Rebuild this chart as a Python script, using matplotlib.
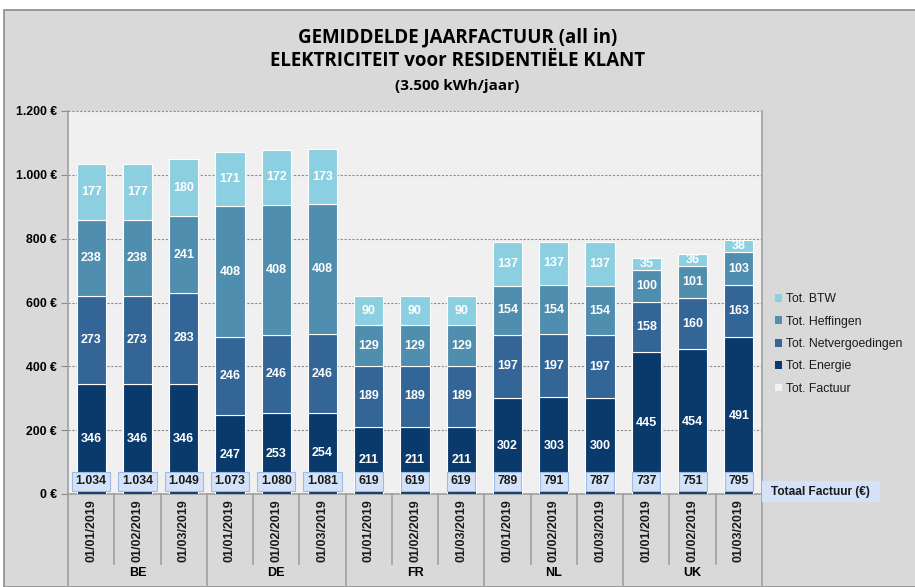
import numpy as np
import matplotlib
matplotlib.use("Agg")
import matplotlib.pyplot as plt
from matplotlib.patches import Rectangle
from matplotlib.lines import Line2D

countries = ["BE", "DE", "FR", "NL", "UK"]
dates = ["01/01/2019", "01/02/2019", "01/03/2019"]

energie = [346, 346, 346, 247, 253, 254, 211, 211, 211, 302, 303, 300, 445, 454, 491]
netverg = [273, 273, 283, 246, 246, 246, 189, 189, 189, 197, 197, 197, 158, 160, 163]
heffing = [238, 238, 241, 408, 408, 408, 129, 129, 129, 154, 154, 154, 100, 101, 103]
btw = [177, 177, 180, 171, 172, 173, 90, 90, 90, 137, 137, 137, 35, 36, 38]
totaal = ["1.034", "1.034", "1.049", "1.073", "1.080", "1.081", "619", "619", "619",
          "789", "791", "787", "737", "751", "795"]

series = [("Tot. Energie", energie, "#0a3a6c"),
          ("Tot. Netvergoedingen", netverg, "#336597"),
          ("Tot. Heffingen", heffing, "#4f8eae"),
          ("Tot. BTW", btw, "#8bcfe0")]

plt.rcParams['font.family'] = ['Liberation Sans', 'DejaVu Sans']

fig = plt.figure(figsize=(9.15, 5.87), dpi=100)
fig.patch.set_facecolor("white")
fig.patches.append(Rectangle((4/915, 0), 1, 1 - 10/587, transform=fig.transFigure,
                             facecolor="#d9d9d9", edgecolor="#8c8c8c", lw=1.2, zorder=-10))

ax = fig.add_axes([68/915, 93/587, 694/915, 383/587])
ax.set_facecolor("#f0f0f0")

x = np.arange(len(energie))
bottom = np.zeros(len(x))
for name, vals, col in series:
    vals = np.array(vals)
    ax.bar(x, vals, 0.63, bottom=bottom, color=col, edgecolor="white", lw=0.8, zorder=3)
    for xi, b, v in zip(x, bottom, vals):
        ax.text(xi, b + v / 2, str(v), ha="center", va="center", color="white",
                fontsize=9, fontweight="bold", zorder=5)
    bottom = bottom + vals

# total boxes
for xi, t in zip(x, totaal):
    ax.text(xi, 40, t, ha="center", va="center", fontsize=8.8, fontweight="bold",
            color="#1a1a1a", zorder=6,
            bbox=dict(boxstyle="square,pad=0.3", fc="#d3e2f7", ec="#9dbbe6", lw=0.8))

ax.set_xlim(-0.5, len(x) - 0.5)
ax.set_ylim(0, 1200)
ax.set_yticks(np.arange(0, 1201, 200))
ax.set_yticklabels([f"{v:,}".replace(",", ".") + " €" for v in range(0, 1201, 200)],
                   fontsize=8.8, fontweight="bold")
ax.yaxis.grid(True, linestyle=(0, (2, 1.5)), color="#8c8c8c", lw=0.8, zorder=0)
ax.tick_params(axis="y", length=5, color="#8c8c8c", pad=3)
ax.set_xticks([])
ax.spines["top"].set_visible(False)
for s in ["left", "right", "bottom"]:
    ax.spines[s].set_color("#a0a0a0")
    ax.spines[s].set_linewidth(1.2)

# category axis below
trans = ax.get_xaxis_transform()
for i in range(len(x)):
    ax.text(i, -0.015, dates[i % 3], rotation=90, ha="center", va="top", fontsize=9,
            fontweight="bold", color="#1a1a1a", transform=trans)
for i in range(len(x) + 1):
    ylow = -0.30 if i % 3 == 0 else -0.182
    ax.add_line(Line2D([i - 0.5, i - 0.5], [0, ylow], transform=trans, color="#a0a0a0",
                       lw=1.2, clip_on=False))
for g, c in enumerate(countries):
    ax.text(g * 3 + 1, -0.207, c, ha="center", va="center", fontsize=9,
            fontweight="bold", transform=trans)

# "Totaal Factuur" label box
fig.patches.append(Rectangle((762/915, 85/587), 118/915, 21/587, transform=fig.transFigure,
                             facecolor="#d3e2f7", edgecolor="none", zorder=1))
fig.text(820/915, 95/587, "Totaal Factuur (€)", ha="center", va="center", fontsize=8.6,
         fontweight="bold", color="#1a1a1a")

# legend
handles = [Rectangle((0, 0), 1, 1, fc=col, ec="none") for _, _, col in series[::-1]]
labels = [name for name, _, _ in series[::-1]]
handles.append(Rectangle((0, 0), 1, 1, fc="#f2f2f2", ec="none"))
labels.append("Tot. Factuur")
fig.legend(handles, labels, loc="center left", bbox_to_anchor=(764/915, 243/587),
           frameon=False, fontsize=8.8, handlelength=0.6, handleheight=0.6,
           handletextpad=0.3, labelspacing=0.85, labelcolor="#1a1a1a")

tfont = ["Open Sans", "DejaVu Sans"]
fig.text(0.5, 1 - 37/587, "GEMIDDELDE JAARFACTUUR (all in)", ha="center", va="center",
         fontsize=13.5, fontweight="bold", family=tfont)
fig.text(0.5, 1 - 61/587, "ELEKTRICITEIT voor RESIDENTIËLE KLANT", ha="center",
         va="center", fontsize=13.5, fontweight="bold", family=tfont)
fig.text(0.5, 1 - 86/587, "(3.500 kWh/jaar)", ha="center", va="center", fontsize=11,
         fontweight="bold", family=tfont)

fig.savefig("out.png", dpi=100)
